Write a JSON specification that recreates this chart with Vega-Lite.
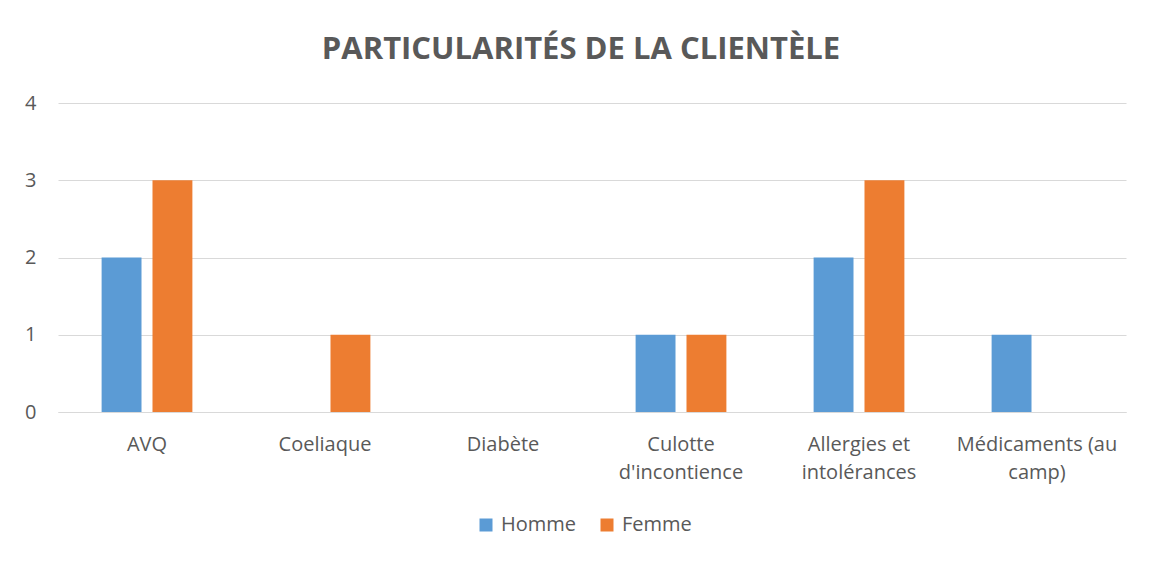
{
  "$schema": "https://vega.github.io/schema/vega-lite/v6.json",
  "autosize": {"type": "none"},
  "width": 1068,
  "height": 309,
  "padding": {"left": 58, "top": 103, "right": 24, "bottom": 149},
  "background": "white",
  "title": {
    "text": "PARTICULARITÉS DE LA CLIENTÈLE",
    "font": "Open Sans",
    "fontSize": 31,
    "fontWeight": "bold",
    "color": "#595959",
    "anchor": "middle",
    "dx": -11,
    "offset": 27
  },
  "data": {
    "values": [
      {"categorie": "AVQ", "sexe": "Homme", "nombre": 2},
      {"categorie": "AVQ", "sexe": "Femme", "nombre": 3},
      {"categorie": "Coeliaque", "sexe": "Homme", "nombre": 0},
      {"categorie": "Coeliaque", "sexe": "Femme", "nombre": 1},
      {"categorie": "Diabète", "sexe": "Homme", "nombre": 0},
      {"categorie": "Diabète", "sexe": "Femme", "nombre": 0},
      {"categorie": "Culotte d'incontience", "sexe": "Homme", "nombre": 1},
      {"categorie": "Culotte d'incontience", "sexe": "Femme", "nombre": 1},
      {"categorie": "Allergies et intolérances", "sexe": "Homme", "nombre": 2},
      {"categorie": "Allergies et intolérances", "sexe": "Femme", "nombre": 3},
      {"categorie": "Médicaments (au camp)", "sexe": "Homme", "nombre": 1},
      {"categorie": "Médicaments (au camp)", "sexe": "Femme", "nombre": 0}
    ]
  },
  "mark": {"type": "bar"},
  "encoding": {
    "x": {
      "field": "categorie",
      "type": "nominal",
      "sort": null,
      "scale": {"paddingInner": 0.49, "paddingOuter": 0.245},
      "axis": {
        "title": null,
        "labelAngle": 0,
        "ticks": false,
        "domain": true,
        "domainColor": "#D9D9D9",
        "domainWidth": 1,
        "labelPadding": 22,
        "labelFont": "Open Sans",
        "labelFontSize": 20,
        "labelColor": "#595959",
        "labelLineHeight": 28,
        "labelLimit": 300,
        "labelExpr": "datum.value == \"Culotte d'incontience\" ? ['Culotte', \"d'incontience\"] : datum.value == 'Allergies et intolérances' ? ['Allergies et', 'intolérances'] : datum.value == 'Médicaments (au camp)' ? ['Médicaments (au', 'camp)'] : datum.value"
      }
    },
    "xOffset": {
      "field": "sexe",
      "type": "nominal",
      "sort": ["Homme", "Femme"],
      "scale": {"paddingInner": 0.216, "paddingOuter": 0}
    },
    "y": {
      "field": "nombre",
      "type": "quantitative",
      "scale": {"domain": [0, 4], "nice": false},
      "axis": {
        "title": null,
        "values": [0, 1, 2, 3, 4],
        "labelOverlap": false,
        "ticks": false,
        "domain": false,
        "grid": true,
        "gridColor": "#D9D9D9",
        "gridWidth": 1,
        "labelPadding": 22,
        "labelFont": "Open Sans",
        "labelFontSize": 20,
        "labelColor": "#595959"
      }
    },
    "color": {
      "field": "sexe",
      "type": "nominal",
      "scale": {"domain": ["Homme", "Femme"], "range": ["#5B9BD5", "#ED7D31"]},
      "legend": {
        "title": null,
        "orient": "none",
        "legendX": 418,
        "legendY": 412,
        "direction": "horizontal",
        "symbolType": "square",
        "symbolSize": 169,
        "symbolStrokeWidth": 0,
        "labelFont": "Open Sans",
        "labelFontSize": 20,
        "labelColor": "#595959",
        "labelOffset": 5,
        "columnPadding": 20
      }
    }
  },
  "config": {
    "view": {"stroke": null}
  }
}
